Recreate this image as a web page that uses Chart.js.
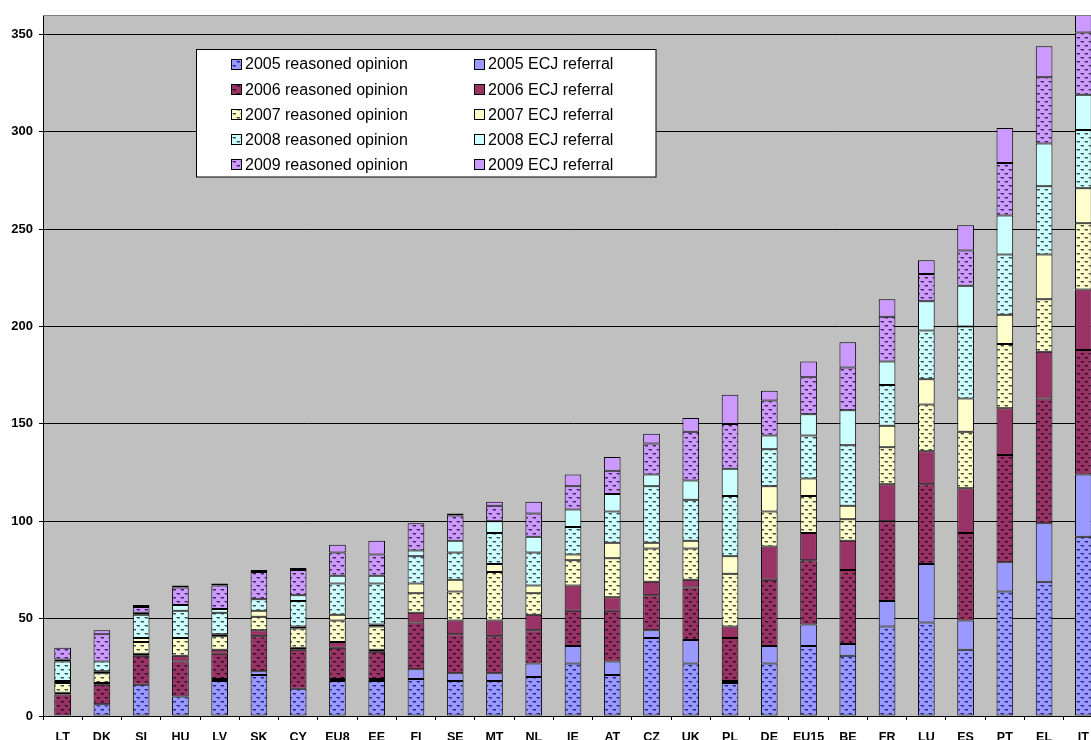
<!DOCTYPE html>
<html>
<head>
<meta charset="utf-8">
<script src="https://cdn.jsdelivr.net/npm/chart.js@4.4.1/dist/chart.umd.min.js"></script>
<style>
  html, body { margin: 0; padding: 0; background: #fff; overflow: hidden; width: 1091px; height: 740px; }
  #wrap { position: absolute; left: 0; top: 0; width: 1106px; height: 752px; }
  canvas { display: block; }
</style>
</head>
<body>
<div id="wrap"><canvas id="c" width="1106" height="752"></canvas></div>
<script>
// Member states / groups, ordered by total infringements
const categories = ['LT','DK','SI','HU','LV','SK','CY','EU8','EE','FI','SE','MT','NL','IE','AT','CZ','UK','PL','DE','EU15','BE','FR','LU','ES','PT','EL','IT'];

// Reasoned opinions and ECJ referrals per year
const ro2005  = [0,6,16,10,18,21,14,18,18,19,18,18,20,27,21,40,27,17,27,36,31,46,48,34,64,69,92];
const ecj2005 = [0,0,0,0,1,2,0,1,1,5,4,4,7,9,7,4,12,1,9,11,6,13,30,15,15,30,32];
const ro2006  = [11,10,15,18,13,18,20,16,14,24,20,19,17,18,26,18,27,22,34,33,38,41,41,45,55,64,64];
const ecj2006 = [1,1,1,3,2,3,1,3,1,5,7,8,8,13,7,7,4,6,17,14,15,19,17,23,24,24,31];
const ro2007  = [5,5,6,9,7,7,10,11,12,10,15,25,11,13,20,17,16,27,18,19,11,19,24,29,33,27,34];
const ecj2007 = [1,1,2,0,1,3,1,3,1,5,6,4,4,3,8,3,4,9,13,9,7,11,13,17,15,23,18];
const ro2008  = [10,5,12,14,11,6,13,16,21,14,14,16,17,14,16,29,21,31,19,22,31,21,25,37,31,35,30];
const ecj2008 = [1,0,1,3,2,0,3,4,4,3,6,6,8,9,9,6,10,14,7,11,18,12,15,21,20,22,18];
const ro2009  = [6,14,3,9,12,14,13,12,11,14,13,8,12,12,12,16,25,23,18,19,22,23,14,18,27,34,32];
const ecj2009 = [0,2,1,1,1,1,1,4,7,0,1,2,6,6,7,5,7,15,5,8,13,9,7,13,18,16,9];

const yTicks = [0, 50, 100, 150, 200, 250, 300, 350];

// Year colours: base fill and the darker dash used in the dotted fill
const yearColours = {
  2005: { fill: '#9999FF', dash: '#1c1c85' },
  2006: { fill: '#993366', dash: '#2a0b1c' },
  2007: { fill: '#FFFFCC', dash: '#3a3a30' },
  2008: { fill: '#CCFFFF', dash: '#304040' },
  2009: { fill: '#CC99FF', dash: '#35204a' }
};

// Dotted fill: rows of short dark dashes, alternate rows shifted by half a period
function dottedFill(bg, fg) {
  const t = document.createElement('canvas');
  t.width = 8; t.height = 8;
  const g = t.getContext('2d');
  g.fillStyle = bg; g.fillRect(0, 0, 8, 8);
  g.fillStyle = fg;
  g.globalAlpha = 0.9;
  g.fillRect(1, 1, 3, 1);
  g.fillRect(5, 5, 3, 1);
  g.globalAlpha = 0.45;
  g.fillRect(1, 2, 3, 1);
  g.fillRect(5, 6, 3, 1);
  g.fillRect(0, 1, 1, 1);
  g.fillRect(4, 5, 1, 1);
  return g.createPattern(t, 'repeat');
}

const seriesDefs = [
  [2005, 'ro', ro2005], [2005, 'ecj', ecj2005],
  [2006, 'ro', ro2006], [2006, 'ecj', ecj2006],
  [2007, 'ro', ro2007], [2007, 'ecj', ecj2007],
  [2008, 'ro', ro2008], [2008, 'ecj', ecj2008],
  [2009, 'ro', ro2009], [2009, 'ecj', ecj2009]
];

const datasets = seriesDefs.map(([year, kind, values]) => {
  const col = yearColours[year];
  return {
    label: year + (kind === 'ro' ? ' reasoned opinion' : ' ECJ referral'),
    data: values,
    backgroundColor: kind === 'ro' ? dottedFill(col.fill, col.dash) : col.fill,
    borderColor: '#000',
    borderWidth: 1,
    borderSkipped: false,
    stack: 'all',
    categoryPercentage: 1,
    barPercentage: 0.425
  };
});

const FONT = "'Liberation Sans', Arial, sans-serif";

// Grey plotting area and its frame
const plotArea = {
  id: 'plotArea',
  beforeDraw(chart) {
    const { ctx, chartArea: a } = chart;
    ctx.save();
    ctx.fillStyle = '#C0C0C0';
    ctx.fillRect(a.left, a.top, a.right - a.left, a.bottom - a.top);
    ctx.restore();
  },
  afterDraw(chart) {
    const { ctx, chartArea: a } = chart;
    ctx.save();
    ctx.strokeStyle = '#808080';
    ctx.lineWidth = 1;
    ctx.beginPath();
    ctx.moveTo(a.left, Math.round(a.top) + 0.5);
    ctx.lineTo(a.right, Math.round(a.top) + 0.5);
    ctx.stroke();
    ctx.restore();
  }
};

// Two-column legend box inside the plot
const boxLegend = {
  id: 'boxLegend',
  afterDraw(chart) {
    const { ctx } = chart;
    const box = { x: 196.5, y: 49.5, w: 459.5, h: 127.5 };
    ctx.save();
    ctx.fillStyle = '#fff';
    ctx.fillRect(box.x, box.y, box.w, box.h);
    ctx.strokeStyle = '#000';
    ctx.lineWidth = 1;
    ctx.strokeRect(box.x, box.y, box.w, box.h);
    ctx.font = '16px ' + FONT;
    ctx.textBaseline = 'middle';
    ctx.textAlign = 'left';
    const cols = [{ sx: 231, tx: 245 }, { sx: 474, tx: 488 }];
    chart.data.datasets.forEach((ds, i) => {
      const row = Math.floor(i / 2), col = cols[i % 2];
      const cy = 64 + row * 25.2;
      const top = Math.round(cy - 5.5) + 0.5;
      ctx.fillStyle = ds.backgroundColor;
      ctx.fillRect(col.sx + 0.5, top, 10, 10);
      ctx.strokeStyle = '#000';
      ctx.strokeRect(col.sx + 0.5, top, 10, 10);
      ctx.fillStyle = '#000';
      ctx.fillText(ds.label, col.tx, cy + 1);
    });
    ctx.restore();
  }
};

new Chart(document.getElementById('c'), {
  type: 'bar',
  data: { labels: categories, datasets },
  options: {
    responsive: false,
    animation: false,
    layout: { padding: { left: 0, top: 15, right: 3, bottom: 0 } },
    plugins: { legend: { display: false }, tooltip: { enabled: false } },
    scales: {
      x: {
        stacked: true,
        offset: true,
        grid: { display: true, drawOnChartArea: false, drawTicks: true, tickLength: 4, offset: true, color: '#000' },
        border: { display: true, color: '#000' },
        ticks: { color: '#000', padding: 10, maxRotation: 0, autoSkip: false, font: { family: FONT, size: 12.5, weight: 'bold' } },
        afterFit(scale) { scale.height = 36; }
      },
      y: {
        stacked: true,
        min: 0,
        max: 360,
        afterBuildTicks(scale) { scale.ticks = yTicks.map(v => ({ value: v })); },
        grid: { color: '#000', lineWidth: 1, tickLength: 4, drawTicks: true },
        border: { display: true, color: '#000' },
        ticks: { color: '#000', padding: 6, font: { family: FONT, size: 13, weight: 'bold' } },
        afterFit(scale) { scale.width = 43; }
      }
    }
  },
  plugins: [plotArea, boxLegend]
});
</script>
</body>
</html>
